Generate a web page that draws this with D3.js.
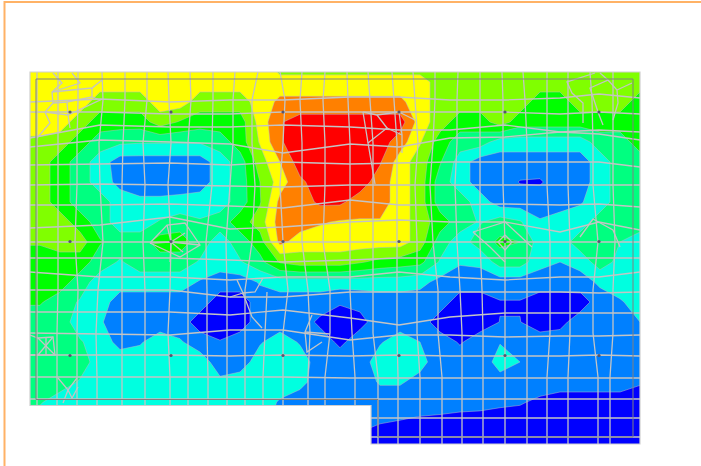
<!DOCTYPE html>
<html lang="en">
  <head>
    <meta charset="utf-8">
    <title>Plate contour</title>
    <script src="https://cdn.jsdelivr.net/npm/d3@7"></script>
    <style>
      html, body { margin: 0; padding: 0; background: white; overflow: hidden; }
      svg { display: block; }
      .soft { filter: blur(0.35px); }
    </style>
  </head>
  <body>
    <script>

        var w = 701;
        var h = 466;

        // contour level read at each sample, rows 20 apart, columns 20 apart
        var r062 = [6,6,6,6,6, 6,6,6,6,6, 6,6,4.6,4.6,4.6, 4.6,4.6,4.6,4.6,4.6, 5,5,5,5,5, 5,5,5,5,5, 5];
        var r082 = [6,6,6,6,6, 6,6,6,6,6, 6,6,6,6,6, 6,6,6,6,6, 5,5,5,5,5, 5,5,5,5,5, 5];
        var r102 = [6,6,6,5,5, 5,6,6,5,5, 5,6,6.7,6.7,6.7, 6.7,6.7,6.7,6.7,6, 5,5,5,5,5, 4,4,5,5,5, 4];
        var r122 = [6,6,5,4,4, 4,5,4.4,4,4, 4,5.9,7.4,8,8, 8,8,8,8,6, 5,4,4,5,4, 4,4,4,4,4, 4];
        var r142 = [5.3,5,4,3,2.7, 2.6,2.6,2.6,2.6,3, 4,5.6,7.4,8,8, 8,8,8,7,5.6, 4,3,3,2,2, 2,2,2,3,3, 4];
        var r162 = [5,4,3,2,1, 1,1,1,1,2, 3,5,6.5,8,8, 8,8,7.6,6,5, 3.6,2,1,1,1, 1,1,1,2,3, 3];
        var r182 = [5,4,3,2,1.2, 1,1,1,1,2, 3,4.5,6,7.3,8, 8,8,7,6,5, 3,2,1,1,0.45, 0.4,1,1,2,3, 3];
        var r202 = [5,4,3,3,2, 1.7,1.7,1.8,2,2, 3,4.4,6.8,7,7.7, 7.7,7,7,6,5, 3,3,2,1,1, 1,1,1.4,2,3, 3];
        var r222 = [5,5,4,3,2, 2,2.6,3,2.6,3, 4,5,7,7,6.6, 6.4,6.4,6.4,6,5, 4,3,2.4,3,2.6, 1.6,2,2,3,3, 3];
        var r242 = [4.6,5,5,3.6,3, 3,4,4,3,2, 3,4,6.8,6,6, 6,6,6,6,5, 3,2,3,3.7,3.5, 2,2,3,3,2.5, 2];
        var r262 = [4,4,4,3,2.4, 3,3,3,2.4,2, 2.4,3.2,4.6,5,5, 5,4.6,4.2,4,3.8, 2.4,1.6,1.7,3,3, 1.8,1.5,1.9,3,2.2, 2];
        var r282 = [4,4,3,2,2, 2,2,2,1.4,1, 1,1.6,2,2,2, 2,2,2,2,1.8, 1.2,1,1,1,1, 1,1,1,1.7,2, 2];
        var r302 = [3.6,3,2.4,2,1, 1,1,1,1,0, 0,1,1,1,1, 0.6,0.8,1,1,1, 1,0,0,0.45,0.45, 0,0,0,1,1.4, 1.9];
        var r322 = [3,3,2,1.6,1, 1,1,1,0,0, 0,1,1,1,0.3, 0,0.2,1,1,1, 0,0,0,0.52,0.52, 0,0.2,1,1,1.2, 1.5];
        var r342 = [3,3,2.6,2,1.2, 1.4,2,1.6,1,0.55, 1,1.4,2,1.4,1, 0.3,1,1.4,2,1.5, 1,0.4,1,1.45,1.1, 1,1,1,1,1, 1];
        var r362 = [3,3,3,2,2, 2,2,2,2,1, 1,2,2,2,1, 1,1,2,2,1.8, 1,1,0.9,1.9,1.5, 1,1,1,1,1, 1];
        var r382 = [3,3,2.4,2,2, 2,2,2,2,1.7, 2,2,2,1.8,1, 1,1,1.6,1.6,1.2, 1,1,1,1.1,1, 1,1,1,1,1, 0.6];
        var r402 = [2.6,2,2,2,2, 2,2,2,2,2, 2,2,1.4,1,1, 1,1,1,1,1, 1,1,0.9,0.7,0.6, 0.3,0,0,0,0, 0];
        var r422 = [2,2,2,2,2, 2,2,2,2,2, 2,2,1,1,1, 1,1,0.55,0.45,0.3, 0.2,0,0,0,0, 0,0,0,0,0, 0];
        var r442 = [0,0,0,0,0, 0,0,0,0,0, 0,0,0,0,0, 0,0,0,0,0, 0,0,0,0,0, 0,0,0,0,0, 0];

        var fieldRows = [r062, r082, r102, r122, r142, r162, r182, r202, r222, r242, r262,
                         r282, r302, r322, r342, r362, r382, r402, r422, r442, r442];
        var fieldStep = 20;

        var bandThresholds = [-1, 0.5, 1.5, 2.5, 3.5, 4.5, 5.5, 6.5, 7.5];
        var bandColors = ["#0000ff", "#0080ff", "#00ffe0", "#00ff80", "#00ff00",
                          "#80ff00", "#ffff00", "#ff8000", "#ff0000"];

        // plate outline and the inner wall line, in plate units
        var plateOutline = [[0,0],[610,0],[610,372],[341,372],[341,333.5],[0,333.5]];
        var wallLine = [[6,7],[603,7],[603,365],[348,365],[348,327.5],[6,327.5]];

        // mesh columns: x of each line at the rows in columnStations
        var columnStations = [0,28,71,113,170,218,261,305];
        var meshColumns = [
          [7,7,7,7,7,7,7,7],
          [28,28,28,28,28,28,27,27],
          [48,48,47,47,45,48,47,47],
          [72,73,69,70,73,68,66,67],
          [95,95,93,92,92,92,92,92],
          [117,117,113,115,113,115,115,115],
          [138,139,141,138,141,140,138,140],
          [160,161,158,158,157,158,158,158],
          [183,183,182,182,176,177,177,178],
          [205,203,203,200,196,197,197,197],
          [228,222,222,225,222,215,215,215],
          [250,255,253,250,253,258,253,253],
          [272,270,272,272,272,278,280,278],
          [295,293,295,295,293,300,300,295],
          [317,318,320,320,320,320,322,325],
          [338,340,343,343,343,343,343,348],
          [362,364,367,367,367,367,367,368],
          [383,385,388,385,387,387,387,390],
          [405,405,403,400,403,408,408,412],
          [428,427,427,425,427,430,432,432],
          [450,450,450,450,450,452,453,453],
          [472,473,473,473,475,475,475,475],
          [493,495,497,497,497,497,497,497],
          [517,517,517,517,520,520,520,517],
          [538,538,538,538,540,540,540,538],
          [560,562,563,563,568,563,563,568],
          [583,583,583,583,585,583,583,580]
        ];
        // where each column runs out at the bottom
        var columnEndsLeft = 333.5;
        var columnEndsRight = 372;
        var stepCol = 341;

        // mesh rows: y of each line at the columns in rowStations
        var rowStations = [0,70,140,200,253,320,369,420,475,530,569,610];
        var meshRowLines = [
          [30,27,30,28,28,25,25,28,28,26,22,26],
          [40,40,42,42,40,40,40,40,40,42,40,42],
          [66,53,55,55,53,55,58,58,53,60,58,60],
          [75,68,70,72,81,72,75,66,65,60,62,68],
          [93,92,91,93,90,92,91,90,90,90,90,95],
          [113,112,113,114,115,113,113,113,113,113,113,113],
          [133,133,132,134,136,128,133,133,132,133,132,135],
          [156,153,145,157,155,150,148,150,150,160,150,158],
          [170,170,170,170,170,170,170,170,170,170,170,170],
          [186,186,186,188,190,188,186,186,186,186,186,186],
          [200,205,205,208,205,205,200,205,208,205,205,200],
          [218,218,218,225,225,220,220,220,220,220,221,220],
          [240,240,240,243,238,246,253,245,241,241,241,241],
          [261,262,263,258,258,268,263,263,265,264,264,263],
          [283,283,283,284,283,284,283,284,284,284,283,284],
          [305,305,305,305,305,306,306,306,306,306,306,306],
          [327,327,327,327,327,327,327,327,327,327,327,327]
        ];
        var meshRowsLower = [346,365];

        // the finer patches of mesh
        var meshPatches = [
          [[23,1],[32,11],[22,20],[23,31],[15,40],[20,51],[7,66]],
          [[42,1],[50,11],[22,20]],
          [[72,8],[62,16],[22,20]],
          [[62,16],[62,25],[37,30],[23,31]],
          [[62,25],[70,28],[38,43],[15,40]],
          [[37,30],[38,43],[40,56]],
          [[565,1],[537,10],[542,21],[553,31],[553,51]],
          [[570,1],[578,8],[560,16],[568,40],[573,53]],
          [[578,8],[587,18],[588,31],[583,48]],
          [[587,18],[602,11]],
          [[0,283],[8,283],[25,283],[23,265],[8,266],[0,263]],
          [[8,266],[25,283]],
          [[23,265],[8,283]],
          [[16,265],[16,283]],
          [[28,306],[38,318],[47,306]],
          [[38,318],[33,331]],
          [[48,315],[42,326],[38,318]],
          [[120,171],[141,170],[170,173]],
          [[137,153],[141,170],[140,190]],
          [[120,171],[137,153],[155,151],[170,173],[150,185],[120,171]],
          [[141,170],[155,161]],
          [[141,170],[153,180]],
          [[443,160],[475,150],[502,175]],
          [[443,160],[460,175],[475,190]],
          [[475,163],[482,170],[475,178],[468,170],[475,163]],
          [[550,165],[563,147],[583,158],[590,175]],
          [[333,40],[347,43],[369,40]],
          [[369,40],[372,63],[372,81]],
          [[347,43],[357,56],[338,71]],
          [[357,56],[372,63]],
          [[369,40],[385,48]],
          [[333,40],[338,71],[345,112]],
          [[207,208],[213,221],[225,220],[233,206]],
          [[200,225],[213,221],[222,245],[232,256]],
          [[282,243],[275,260],[277,280],[292,270]],
          [[275,260],[300,262]],
          [[237,220],[235,261],[233,305],[233,333.5]]
        ];

        // the column points
        var pointCols = [40,141,253,369,475,569];
        var pointRows = [40,169.5,283.5];

        var xScale = d3.scaleLinear().domain([0, 610]).range([30, 640]);
        var yScale = d3.scaleLinear().domain([0, 372]).range([72, 444]);

        var mySvg = d3.select("body")
                      .append("svg")
                      .attr("width", w)
                      .attr("height", h);

        // page frame
        mySvg.append("path")
             .attr("d", "M4.5,466V2H701")
             .attr("fill", "none")
             .attr("stroke", "#ffb266")
             .attr("stroke-width", 2);

        var line = d3.line()
                     .x(function(d) { return xScale(d[0]); })
                     .y(function(d) { return yScale(d[1]); });

        mySvg.append("clipPath")
             .attr("id", "plate")
             .append("path")
             .attr("d", line(plateOutline) + "Z");

        var plot = mySvg.append("g").attr("class", "soft");

        // contour bands, edge columns doubled so the outer corners stay square
        var padded = fieldRows.map(function(r) {
          return [r[0]].concat(r, [r[r.length - 1]]);
        });

        var contours = d3.contours()
                         .size([padded[0].length, padded.length])
                         .thresholds(bandThresholds)(padded.flat());

        var toPlate = d3.geoTransform({
          point: function(x, y) {
            this.stream.point(xScale((x - 1) * fieldStep), yScale((y - 1) * fieldStep));
          }
        });

        plot.append("g")
            .attr("clip-path", "url(#plate)")
            .selectAll("path")
            .data(contours)
            .enter()
            .append("path")
            .attr("d", d3.geoPath(toPlate))
            .attr("fill", function(d, i) { return bandColors[i]; })
            .attr("stroke", "#b8b8c8")
            .attr("stroke-width", 0.5);

        // mesh
        var meshLines = [];
        meshColumns.forEach(function(xs) {
          var pts = xs.map(function(x, i) { return [x, columnStations[i]]; });
          var last = xs[xs.length - 1];
          pts.push([last, last > stepCol ? columnEndsRight : columnEndsLeft]);
          meshLines.push(pts);
        });
        meshRowLines.forEach(function(ys) {
          meshLines.push(ys.map(function(y, i) { return [rowStations[i], y]; }));
        });
        meshRowsLower.forEach(function(y) {
          meshLines.push([[stepCol, y], [610, y]]);
        });
        meshLines = meshLines.concat(meshPatches);

        plot.append("g")
            .attr("clip-path", "url(#plate)")
            .selectAll("path")
            .data(meshLines)
            .enter()
            .append("path")
            .attr("d", line)
            .attr("fill", "none")
            .attr("stroke", "#c4c4c4")
            .attr("stroke-width", 1.3);

        plot.append("path")
            .attr("d", line(plateOutline) + "Z")
            .attr("fill", "none")
            .attr("stroke", "#cfcfcf")
            .attr("stroke-width", 1.2);

        plot.append("path")
            .attr("d", line(wallLine) + "Z")
            .attr("fill", "none")
            .attr("stroke", "#808080")
            .attr("stroke-width", 1);

        var points = d3.cross(pointCols, pointRows);
        plot.append("g")
            .selectAll("circle")
            .data(points)
            .enter()
            .append("circle")
            .attr("cx", function(d) { return xScale(d[0]); })
            .attr("cy", function(d) { return yScale(d[1]); })
            .attr("r", 1.6)
            .attr("fill", "#555570");

    </script>
  </body>
</html>
